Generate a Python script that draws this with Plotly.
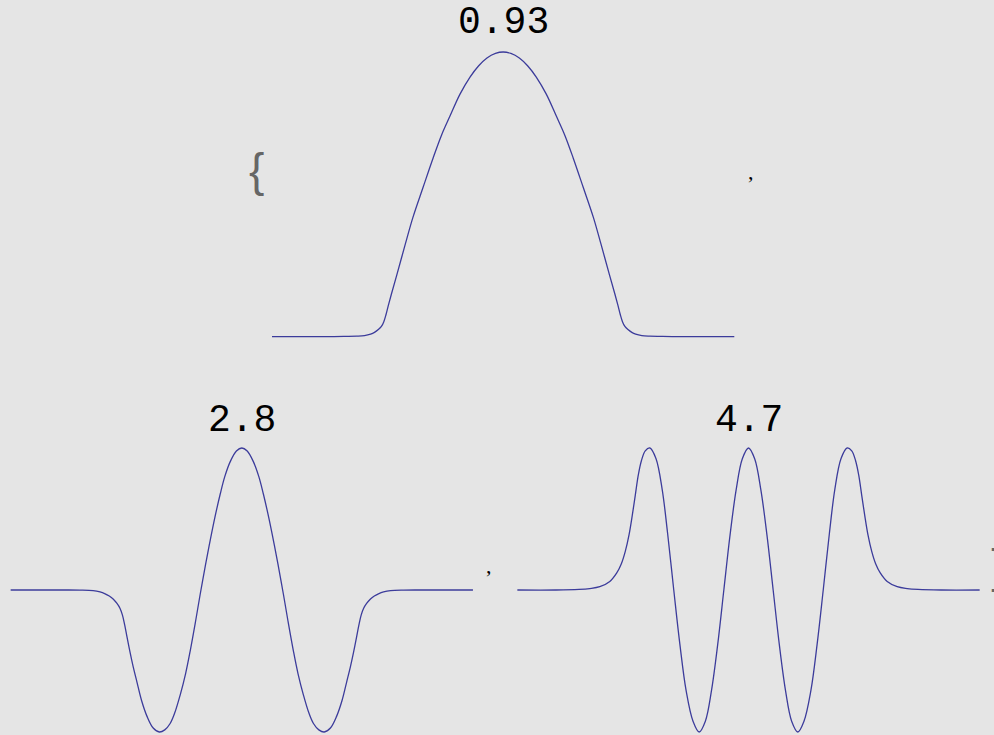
import plotly.graph_objects as go

# ---------------- data ----------------
energy_labels = ["0.93", "2.8", "4.7"]

psi1_x = [-3.0, -2.3, -2.05, -1.9, -1.8, -1.72, -1.67, -1.62, -1.58, -1.55, -1.52, -1.49, -1.45, -1.38, -1.27,
          -1.17, -1.04, -0.91, -0.80, -0.69, -0.56, -0.43, -0.32, -0.21, -0.10, 0.0,
          0.10, 0.21, 0.32, 0.43, 0.56, 0.69, 0.80, 0.91, 1.04, 1.17, 1.27, 1.38, 1.45, 1.49, 1.52, 1.55,
          1.58, 1.62, 1.67, 1.72, 1.8, 1.9, 2.05, 2.3, 3.0]
psi1_y = [0.0, 0.0, 0.001, 0.002, 0.004, 0.009, 0.015, 0.025, 0.036, 0.052, 0.078, 0.11, 0.15, 0.217, 0.325,
          0.42, 0.524, 0.627, 0.708, 0.775, 0.852, 0.912, 0.951, 0.979, 0.995, 1.0,
          0.995, 0.979, 0.951, 0.912, 0.852, 0.775, 0.708, 0.627, 0.524, 0.42, 0.325, 0.217, 0.15, 0.11, 0.078,
          0.052, 0.036, 0.025, 0.015, 0.009, 0.004, 0.002, 0.001, 0.0, 0.0]

psi2_x = [-3.0, -2.3, -2.1, -1.93, -1.84, -1.78, -1.72, -1.67, -1.62, -1.58, -1.55, -1.52, -1.49, -1.45, -1.41,
          -1.36, -1.30, -1.23, -1.15, -1.07, -1.00, -0.93, -0.87, -0.80, -0.73, -0.67, -0.60, -0.54, -0.47,
          -0.41, -0.35, -0.28, -0.22, -0.15, -0.07, 0.0,
          0.07, 0.15, 0.22, 0.28, 0.35, 0.41, 0.47, 0.54, 0.60, 0.67, 0.73, 0.80, 0.87, 0.93, 1.00, 1.07,
          1.15, 1.23, 1.30, 1.36, 1.41, 1.45, 1.49, 1.52, 1.55, 1.58, 1.62, 1.67, 1.72, 1.78, 1.84, 1.93, 2.1,
          2.3, 3.0]
psi2_y = [0.0, 0.0, -0.001, -0.005, -0.014, -0.025, -0.042, -0.063, -0.095, -0.13, -0.175, -0.245, -0.33,
          -0.44, -0.54, -0.65, -0.78, -0.89, -0.972, -1.0, -0.985, -0.94, -0.865, -0.74, -0.59, -0.43, -0.22,
          -0.03, 0.18, 0.35, 0.51, 0.676, 0.80, 0.904, 0.979, 1.0,
          0.979, 0.904, 0.80, 0.676, 0.51, 0.35, 0.18, -0.03, -0.22, -0.43, -0.59, -0.74, -0.865, -0.94, -0.985,
          -1.0, -0.972, -0.89, -0.78, -0.65, -0.54, -0.44, -0.33, -0.245, -0.175, -0.13, -0.095, -0.063, -0.042,
          -0.025, -0.014, -0.005, -0.001, 0.0, 0.0]

psi3_x = [-3.0, -2.5, -2.2, -2.06, -1.93, -1.80, -1.71, -1.65, -1.60, -1.55, -1.51, -1.47, -1.43, -1.39, -1.34,
          -1.28, -1.20, -1.12, -1.05, -0.97, -0.89, -0.81, -0.72, -0.64, -0.56, -0.48, -0.40, -0.32, -0.24,
          -0.16, -0.08, 0.0,
          0.08, 0.16, 0.24, 0.32, 0.40, 0.48, 0.56, 0.64, 0.72, 0.81, 0.89, 0.97, 1.05, 1.12, 1.20, 1.28, 1.34,
          1.39, 1.43, 1.47, 1.51, 1.55, 1.60, 1.65, 1.71, 1.80, 1.93, 2.06, 2.2, 2.5, 3.0]
psi3_y = [0.0, 0.0, 0.004, 0.01, 0.023, 0.06, 0.12, 0.185, 0.27, 0.39, 0.52, 0.665, 0.81, 0.91, 0.98,
          1.0, 0.924, 0.707, 0.40, 0.0, -0.385, -0.707, -0.924, -1.0, -0.924, -0.707, -0.385, 0.0, 0.385,
          0.707, 0.924, 1.0,
          0.924, 0.707, 0.385, 0.0, -0.385, -0.707, -0.924, -1.0, -0.924, -0.707, -0.385, 0.0, 0.40, 0.707,
          0.924, 1.0, 0.98, 0.91, 0.81, 0.665, 0.52, 0.39, 0.27, 0.185, 0.12, 0.06, 0.023, 0.01, 0.004, 0.0, 0.0]

# ---------------- layout helpers ----------------
W, H = 994, 735
BG = "#e5e5e5"
LINE = "rgb(60,60,155)"
XPX_PER_UNIT = 77.05
XR = [-3.1, 3.1]


def xdom(center_px):
    return [(center_px + XR[0] * XPX_PER_UNIT) / W, (center_px + XR[1] * XPX_PER_UNIT) / W]


def ydom(zero_px, px_per_unit, r):
    return [1 - (zero_px - r[0] * px_per_unit) / H, 1 - (zero_px - r[1] * px_per_unit) / H]


fig = go.Figure()
curves = [(psi1_x, psi1_y, "x", "y"), (psi2_x, psi2_y, "x2", "y2"), (psi3_x, psi3_y, "x3", "y3")]
for xs, ys, xa, ya in curves:
    fig.add_trace(go.Scatter(x=xs, y=ys, xaxis=xa, yaxis=ya, mode="lines",
                             line=dict(color=LINE, width=1.3, shape="spline", smoothing=1.0),
                             hoverinfo="skip", showlegend=False))

R1 = [-0.05, 1.05]
R2 = [-1.02, 1.05]
ax_common = dict(visible=False, showgrid=False, zeroline=False, fixedrange=True)

fig.update_layout(
    width=W, height=H,
    margin=dict(l=0, r=0, t=0, b=0),
    paper_bgcolor=BG, plot_bgcolor="rgba(0,0,0,0)",
    xaxis=dict(domain=xdom(503.15), range=XR, anchor="y", **ax_common),
    yaxis=dict(domain=ydom(336.7, 284.7, R1), range=R1, anchor="x", **ax_common),
    xaxis2=dict(domain=xdom(241.8), range=XR, anchor="y2", **ax_common),
    yaxis2=dict(domain=ydom(590.0, 142.0, R2), range=R2, anchor="x2", **ax_common),
    xaxis3=dict(domain=xdom(748.5), range=XR, anchor="y3", **ax_common),
    yaxis3=dict(domain=ydom(590.0, 142.0, R2), range=R2, anchor="x3", **ax_common),
)

mono = dict(family="Liberation Mono", size=38, color="black")
label_pos = [(503, 23), (241.5, 420), (748.5, 420)]
for txt, (px, py) in zip(energy_labels, label_pos):
    fig.add_annotation(text=txt, x=px / W, y=1 - py / H, xref="paper", yref="paper",
                       xanchor="center", yanchor="middle", showarrow=False, font=mono)

brace_font = dict(family="Liberation Sans", size=46, color="#666666")
comma_font = dict(family="Liberation Serif", size=22, color="black")
punct = [("{", 256, 170, brace_font), (",", 751, 171, comma_font),
         (",", 489, 565, comma_font), ("}", 998, 566, brace_font)]
for txt, px, py, f in punct:
    fig.add_annotation(text=txt, x=px / W, y=1 - py / H, xref="paper", yref="paper",
                       xanchor="center", yanchor="middle", showarrow=False, font=f)

fig.write_html("out.html", config={"displayModeBar": False},
               post_script="document.body.style.margin='0px';")
